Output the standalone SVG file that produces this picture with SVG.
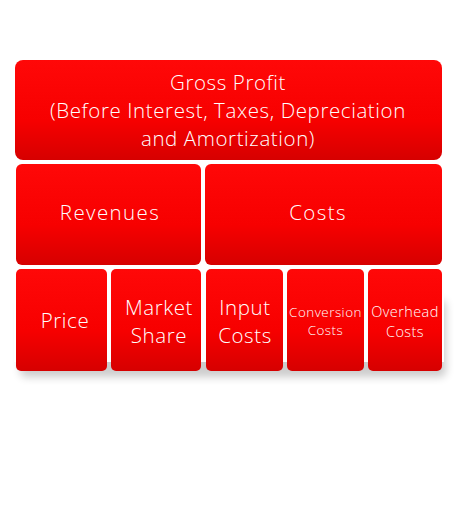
<svg xmlns="http://www.w3.org/2000/svg" width="460" height="506" viewBox="0 0 460 506">
<defs>
<linearGradient id="red" x1="0" y1="0" x2="0" y2="1">
<stop offset="0" stop-color="#ff0808"/>
<stop offset="0.6" stop-color="#f70000"/>
<stop offset="1" stop-color="#d60000"/>
</linearGradient>
<filter id="sh" x="-10%" y="-10%" width="120%" height="130%">
<feGaussianBlur stdDeviation="4"/>
</filter>
</defs>
<style>
.box{fill:url(#red);}
.t{fill:#ffffff;font-family:"Open Sans",Lato,sans-serif;font-weight:300;text-anchor:middle;}
.l{font-size:20.5px;letter-spacing:0.6px;}
.w{letter-spacing:1.4px;}
.s{font-size:13.4px;letter-spacing:0.5px;}
.m{font-size:14.5px;letter-spacing:0.4px;}
</style>
<rect width="460" height="506" fill="#ffffff"/>
<rect x="20" y="300" width="426" height="77" rx="6" fill="#000" opacity="0.2" filter="url(#sh)"/>
<rect x="14" y="62" width="430" height="300" fill="#ffffff"/>
<g id="gross">
<rect class="box" x="15" y="60" width="427" height="100" rx="8"/>
<text class="t l" x="228" y="90">Gross Profit</text>
<text class="t l" x="228" y="118">(Before Interest, Taxes, Depreciation</text>
<text class="t l" x="228" y="146">and Amortization)</text>
</g>
<g id="revenues">
<rect class="box" x="16" y="164" width="185" height="101" rx="6"/>
<text class="t l w" x="110" y="220">Revenues</text>
</g>
<g id="costs">
<rect class="box" x="205" y="164" width="237" height="101" rx="6"/>
<text class="t l w" x="318" y="220">Costs</text>
</g>
<g id="price">
<rect class="box" x="16" y="269" width="91" height="102" rx="5"/>
<text class="t l" x="65" y="328">Price</text>
</g>
<g id="market">
<rect class="box" x="111" y="269" width="90" height="102" rx="5"/>
<text class="t l" x="159" y="315">Market</text>
<text class="t l" x="159" y="343">Share</text>
</g>
<g id="input">
<rect class="box" x="206" y="269" width="77" height="102" rx="5"/>
<text class="t l" x="245" y="315">Input</text>
<text class="t l" x="245" y="343">Costs</text>
</g>
<g id="conversion">
<rect class="box" x="287" y="269" width="77" height="102" rx="5"/>
<text class="t s" x="325.5" y="317">Conversion</text>
<text class="t s" x="325.5" y="335">Costs</text>
</g>
<g id="overhead">
<rect class="box" x="368" y="269" width="74" height="102" rx="5"/>
<text class="t m" x="405" y="317">Overhead</text>
<text class="t m" x="405" y="337">Costs</text>
</g>
<g id="connectors"/>
</svg>
